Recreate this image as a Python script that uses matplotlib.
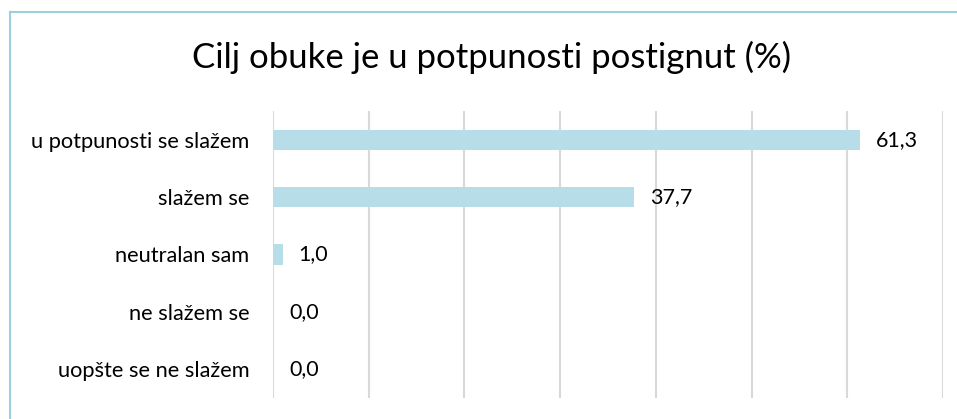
import matplotlib.pyplot as plt
from matplotlib.lines import Line2D

categories = ['u potpunosti se slažem', 'slažem se', 'neutralan sam',
              'ne slažem se', 'uopšte se ne slažem']
values = [61.3, 37.7, 1.0, 0.0, 0.0]
title = 'Cilj obuke je u potpunosti postignut (%)'

plt.rcParams['font.family'] = ['Lato', 'DejaVu Sans']

W, H = 957, 419
fig = plt.figure(figsize=(W / 100, H / 100), dpi=100)
# axes placed in pixel coords: x 273..943, y 111..398
ax = fig.add_axes([273 / W, 1 - 398 / H, (943 - 273) / W, (398 - 111) / H])

y = list(range(len(categories)))
ax.barh(y, values, height=0.35, color='#b7dde8', zorder=3)
ax.set_ylim(len(categories) - 0.5, -0.5)
ax.set_xlim(0, 70)
ax.set_xticks(range(0, 71, 10))
ax.set_xticklabels([])
ax.set_yticks(y)
ax.set_yticklabels(categories, fontsize=15.7)
ax.tick_params(axis='both', length=0)
ax.tick_params(axis='y', pad=17)
ax.grid(axis='x', color='#d9d9d9', linewidth=1.5, zorder=0)
for s in ax.spines.values():
    s.set_visible(False)

for yi, v in zip(y, values):
    ax.annotate(f'{v:.1f}'.replace('.', ','), (v, yi), xytext=(16, 0),
                textcoords='offset pixels', va='center', ha='left', fontsize=15.5)

fig.text(0.5 + 13 / W, 1 - 57 / H, title, ha='center', va='center', fontsize=25)

# outer chart border (only top and left edges fall inside the image)
fig.add_artist(Line2D([10 / W, 10 / W], [0, 1 - 12 / H], color='#9dd0de', lw=1.5,
                      transform=fig.transFigure))
fig.add_artist(Line2D([10 / W, 1], [1 - 12 / H, 1 - 12 / H], color='#9dd0de', lw=1.5,
                      transform=fig.transFigure))

fig.savefig('out.png', dpi=100)
